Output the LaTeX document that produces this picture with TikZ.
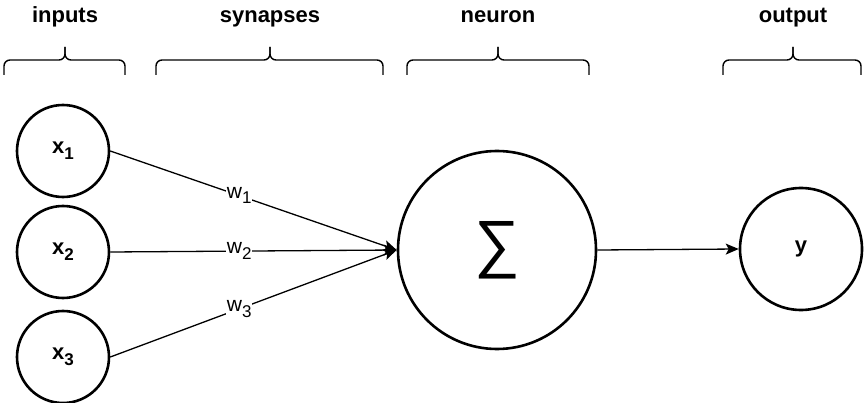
\documentclass[tikz,border=0pt]{standalone}
\usepackage{fontspec}
\setmainfont{Liberation Sans}
\usetikzlibrary{arrows.meta,positioning}

% letter with a lowered index
\newcommand{\idx}[2]{#1\raisebox{-0.5ex}{\fontsize{17}{17}\selectfont #2}}

\begin{document}
\begin{tikzpicture}[x=1pt, y=-1pt,
  unit/.style={draw, circle, line width=2.6pt, minimum size=92pt, inner sep=0pt,
               font=\fontsize{22}{26}\selectfont\bfseries},
  link/.style={-{Stealth[length=13pt,width=11pt,inset=3pt]}, line width=1.3pt},
  weight/.style={fill=white, inner sep=1pt, font=\fontsize{21}{24}\selectfont},
  group/.style={line width=1.4pt, rounded corners=6pt},
  title/.style={anchor=base, font=\fontsize{22}{26}\selectfont\bfseries}
]
\useasboundingbox (0,0) rectangle (864,403);

% Column titles
\node[title] (tin)  at (65,23)  {inputs};
\node[title] (tsyn) at (270,23) {synapses};
\node[title] (tneu) at (498,23) {neuron};
\node[title] (tout) at (793,23) {output};

% Braces under the titles (left end / tip / right end)
\foreach \l/\m/\r in {4/65/125, 156/270/383, 407/498/589, 723/793/861} {
  \draw[group] (\l,75) |- (\m,60) -- (\m,47);
  \draw[group] (\r,75) |- (\m,60) -- (\m,47);
}

% Inputs
\node[unit] (x1) at (63,151) {\idx{x}{1}};
\node[unit] (x2) at (63,252) {\idx{x}{2}};
\node[unit] (x3) at (63,357) {\idx{x}{3}};

% Neuron and output
\node[unit, minimum size=198pt, font=\fontsize{64}{64}\selectfont] (sum) at (497,250) {∑};
\node[unit, minimum size=122pt] (y) at (801,249) {y};

% Weighted synapses
\draw[link] (x1.east) -- node[weight, pos=0.45] {\idx{w}{1}} (sum.west);
\draw[link] (x2.east) -- node[weight, pos=0.45] {\idx{w}{2}} (sum.west);
\draw[link] (x3.east) -- node[weight, pos=0.45] {\idx{w}{3}} (sum.west);
\draw[link] (sum.east) -- (y.west);
\end{tikzpicture}
\end{document}
